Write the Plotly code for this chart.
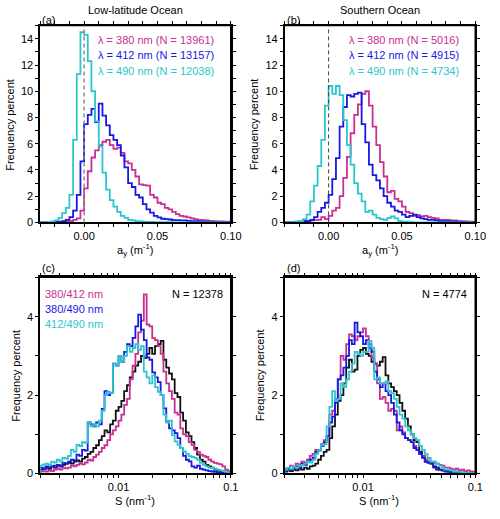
import numpy as np
import plotly.graph_objects as go

# ---------------- data ----------------
# panels (a),(b): absorption a_y histograms, bins of 0.0025 m^-1 from -0.03 to 0.10
AY_EDGES = np.round(np.linspace(-0.03, 0.10, 53), 5)

a_380 = [0, 0, 0, 0, 0.01, 0.02, 0.02, 0.05, 0.1, 0.2, 0.3, 0.9,
         2.6, 3.9, 4.95, 5.5, 5.9, 6.15, 6.3, 5.9, 5.6, 5.7,
         5.3, 4.65, 4.5, 4.0, 3.5, 2.9, 2.85, 2.8, 2.1, 1.9,
         1.5, 1.4, 1.1, 1.0, 0.8, 0.63, 0.5, 0.45, 0.38, 0.3,
         0.25, 0.2, 0.18, 0.15, 0.12, 0.1, 0.08, 0.08, 0.06, 0.05]
a_412 = [0, 0, 0.01, 0.02, 0.03, 0.05, 0.1, 0.2, 0.4, 0.9, 2.1, 4.65,
         7.5, 8.2, 8.65, 7.65, 9.05, 8.15, 7.4, 6.65, 6.3, 5.9,
         5.1, 4.2, 3.0, 2.7, 2.1, 1.9, 1.4, 1.0, 0.75, 0.5,
         0.38, 0.28, 0.25, 0.22, 0.18, 0.18, 0.15, 0.15, 0.12, 0.1,
         0.1, 0.08, 0.06, 0.05, 0.04, 0.03, 0.02, 0.02, 0.01, 0.01]
a_490 = [0, 0, 0.03, 0.08, 0.15, 0.35, 0.7, 1.1, 2.1, 6.3, 11.3, 14.5,
         14.3, 12.3, 10.0, 7.7, 5.8, 3.8, 2.5, 1.7, 1.2, 0.8,
         0.5, 0.35, 0.2, 0.15, 0.1, 0.08, 0.05, 0.04, 0.03, 0.02,
         0.02, 0.01, 0.01, 0.01, 0, 0, 0, 0, 0, 0,
         0, 0, 0, 0, 0, 0, 0, 0, 0, 0]

b_380 = [0, 0, 0.02, 0.03, 0.05, 0.1, 0.1, 0.15, 0.2, 0.2, 0.4, 0.25,
         0.5, 0.9, 1.1, 2.0, 3.4, 5.0, 6.8, 8.2, 9.0, 9.8,
         10.0, 8.9, 7.3, 5.9, 4.6, 3.5, 2.3, 2.4, 1.8, 1.6,
         1.2, 0.8, 0.7, 0.5, 0.55, 0.45, 0.5, 0.4, 0.35, 0.3,
         0.2, 0.2, 0.2, 0.15, 0.15, 0.1, 0.1, 0.08, 0.06, 0.05]
b_412 = [0, 0, 0.02, 0.05, 0.05, 0.1, 0.1, 0.2, 0.4, 0.8, 1.1, 1.5,
         2.1, 3.3, 4.9, 7.3, 8.8, 9.7, 9.6, 9.8, 9.9, 7.5,
         6.1, 4.4, 3.6, 3.2, 2.6, 2.0, 1.5, 1.2, 0.9, 0.8,
         0.6, 0.4, 0.5, 0.6, 0.4, 0.3, 0.25, 0.2, 0.2, 0.15,
         0.1, 0.1, 0.08, 0.06, 0.05, 0.05, 0.04, 0.03, 0.02, 0.02]
b_490 = [0, 0, 0.02, 0.05, 0.1, 0.25, 0.6, 1.6, 2.8, 4.3, 6.3, 8.9,
         10.4, 9.8, 10.4, 9.7, 7.8, 5.9, 4.4, 3.0, 2.2, 1.6,
         0.8, 0.9, 0.6, 0.35, 0.25, 0.2, 0.35, 0.45, 0.3, 0.1,
         0.05, 0.05, 0.02, 0, 0, 0, 0, 0, 0, 0,
         0, 0, 0, 0, 0, 0, 0, 0, 0, 0]

# panels (c),(d): spectral slope S histograms, log bins of 0.025 decade from 0.002 to 0.1
S_EDGES = 10 ** np.linspace(-2.7, -1.0, 69)

c_black = [0.10, 0.12, 0.15, 0.12, 0.18, 0.15, 0.20, 0.18, 0.22, 0.25,
           0.27, 0.25, 0.30, 0.33, 0.30, 0.38, 0.42, 0.50, 0.55, 0.65,
           0.72, 0.85, 0.95, 1.10, 1.05, 1.25, 1.35, 1.60, 1.70, 1.85,
           2.10, 2.25, 2.45, 2.60, 2.75, 2.85, 3.00, 2.95, 3.05, 3.20,
           3.05, 3.25, 3.30, 3.38, 2.90, 2.70, 2.55, 2.40, 2.05, 1.95,
           1.55, 1.35, 1.05, 0.95, 0.80, 0.65, 0.48, 0.35, 0.30, 0.22,
           0.18, 0.15, 0.10, 0.08, 0.06, 0.05, 0.04, 0.03]
c_380_412 = [0.05, 0.06, 0.05, 0.08, 0.06, 0.10, 0.12, 0.10, 0.15, 0.13,
             0.15, 0.20, 0.18, 0.22, 0.25, 0.23, 0.28, 0.35, 0.33, 0.42,
             0.48, 0.55, 0.65, 0.72, 0.85, 1.00, 1.10, 1.20, 1.35, 1.50,
             1.75, 1.90, 2.40, 2.75, 3.05, 3.60, 3.90, 4.57, 3.80, 3.75,
             3.45, 3.40, 3.25, 3.05, 2.60, 2.30, 2.10, 1.90, 1.55, 1.50,
             1.15, 1.00, 0.95, 0.80, 0.73, 0.60, 0.55, 0.48, 0.45, 0.42,
             0.35, 0.30, 0.27, 0.25, 0.23, 0.18, 0.10, 0.06]
c_380_490 = [0.15, 0.12, 0.18, 0.15, 0.18, 0.20, 0.22, 0.18, 0.27, 0.25,
             0.30, 0.35, 0.33, 0.48, 0.45, 0.60, 0.58, 1.30, 1.25, 1.20,
             1.30, 1.25, 1.65, 2.10, 2.00, 2.05, 2.80, 2.75, 3.00, 2.85,
             3.10, 3.30, 3.25, 3.46, 3.75, 4.05, 3.67, 3.40, 2.96, 2.90,
             2.58, 2.45, 2.33, 2.00, 1.66, 1.32, 1.15, 1.10, 1.03, 0.90,
             0.65, 0.45, 0.35, 0.31, 0.18, 0.15, 0.20, 0.12, 0.10, 0.08,
             0.06, 0.05, 0.04, 0.03, 0.02, 0.02, 0.01, 0.01]
c_412_490 = [0.20, 0.23, 0.25, 0.22, 0.30, 0.28, 0.35, 0.30, 0.40, 0.38,
             0.45, 0.60, 0.55, 0.73, 0.70, 0.80, 0.78, 1.30, 1.20, 1.25,
             1.20, 1.35, 1.60, 2.00, 2.08, 2.05, 2.80, 2.75, 3.00, 2.85,
             3.00, 3.25, 3.10, 3.20, 3.30, 3.15, 3.25, 2.60, 2.45, 2.30,
             2.50, 2.20, 2.08, 2.00, 1.50, 1.30, 1.35, 0.98, 0.82, 0.73,
             0.65, 0.56, 0.50, 0.44, 0.42, 0.40, 0.35, 0.27, 0.22, 0.18,
             0.15, 0.14, 0.12, 0.10, 0.08, 0.06, 0.04, 0.03]

d_black = [0.05, 0.08, 0.06, 0.10, 0.08, 0.12, 0.10, 0.15, 0.12, 0.18,
           0.20, 0.25, 0.35, 0.45, 0.55, 0.60, 0.90, 1.20, 1.50, 1.85,
           2.00, 2.30, 2.70, 2.90, 2.60, 2.65, 3.00, 3.15, 3.20, 3.05,
           3.00, 2.85, 2.80, 2.75, 2.85, 2.97, 2.50, 2.30, 2.20, 2.10,
           2.00, 1.80, 1.60, 1.40, 1.20, 1.00, 0.85, 0.80, 0.55, 0.45,
           0.30, 0.28, 0.25, 0.18, 0.15, 0.10, 0.08, 0.06, 0.05, 0.04,
           0.03, 0.02, 0.02, 0.01, 0.01, 0.0, 0.0, 0.0]
d_380_412 = [0.12, 0.10, 0.20, 0.15, 0.25, 0.22, 0.30, 0.28, 0.35, 0.45,
             0.50, 0.60, 0.58, 0.75, 0.85, 0.95, 1.50, 1.60, 1.90, 2.40,
             3.00, 2.90, 3.30, 3.55, 3.50, 3.40, 3.50, 3.60, 3.70, 3.50,
             3.30, 2.95, 2.80, 2.30, 1.90, 1.95, 1.80, 1.60, 1.65, 1.60,
             1.10, 1.20, 1.05, 0.90, 0.85, 0.80, 0.70, 0.60, 0.50, 0.45,
             0.35, 0.40, 0.30, 0.28, 0.25, 0.22, 0.20, 0.15, 0.15, 0.12,
             0.10, 0.12, 0.08, 0.10, 0.06, 0.08, 0.05, 0.04]
d_380_490 = [0.08, 0.12, 0.10, 0.15, 0.18, 0.15, 0.25, 0.22, 0.30, 0.35,
             0.40, 0.55, 0.60, 0.70, 0.80, 0.95, 1.30, 1.45, 1.80, 2.40,
             2.50, 2.70, 3.00, 3.40, 3.30, 3.85, 3.60, 3.50, 3.30, 3.40,
             3.20, 3.10, 2.60, 2.40, 2.20, 2.30, 2.10, 2.00, 1.80, 1.50,
             1.30, 1.10, 1.00, 0.90, 0.85, 0.80, 0.65, 0.60, 0.50, 0.40,
             0.30, 0.28, 0.25, 0.15, 0.10, 0.10, 0.08, 0.05, 0.05, 0.03,
             0.02, 0.02, 0.01, 0.01, 0.0, 0.0, 0.0, 0.0]
d_412_490 = [0.10, 0.15, 0.12, 0.18, 0.15, 0.20, 0.22, 0.25, 0.30, 0.28,
             0.35, 0.50, 0.60, 0.72, 0.75, 1.20, 1.70, 2.10, 1.85, 1.90,
             2.30, 2.20, 2.40, 2.60, 2.80, 3.10, 3.05, 3.00, 3.10, 3.10,
             3.38, 3.20, 2.40, 2.45, 2.30, 2.30, 2.35, 2.10, 2.05, 1.90,
             1.70, 1.50, 1.40, 1.20, 1.10, 1.00, 0.90, 0.85, 0.70, 0.60,
             0.50, 0.40, 0.30, 0.30, 0.25, 0.20, 0.15, 0.10, 0.10, 0.08,
             0.05, 0.05, 0.04, 0.03, 0.02, 0.02, 0.01, 0.01]

AY_LABELS_A = ["λ = 380 nm (N = 13961)", "λ = 412 nm (N = 13157)", "λ = 490 nm (N = 12038)"]
AY_LABELS_B = ["λ = 380 nm (N = 5016)", "λ = 412 nm (N = 4915)", "λ = 490 nm (N = 4734)"]
S_LABELS = ["380/412 nm", "380/490 nm", "412/490 nm"]
N_C, N_D = "N = 12378", "N = 4774"
S_DASH = [0.014, 0.018]

# tick positions / labels
AY_TICKS = [-0.03, -0.02, -0.01, 0.0, 0.01, 0.02, 0.03, 0.04, 0.05, 0.06, 0.07, 0.08, 0.09, 0.10]
AY_TICKTEXT = ["", "", "", "0.00", "", "", "", "", "0.05", "", "", "", "", "0.10"]
S_TICKS = [0.002, 0.003, 0.004, 0.005, 0.006, 0.007, 0.008, 0.009, 0.01,
           0.02, 0.03, 0.04, 0.05, 0.06, 0.07, 0.08, 0.09, 0.1]
S_TICKTEXT = ["", "", "", "", "", "", "", "", "0.01", "", "", "", "", "", "", "", "", "0.1"]
YT_TICKS = list(range(0, 16))
YT_TICKTEXT = [str(v) if v % 2 == 0 else "" for v in YT_TICKS]
YB_TICKS = [0, 1, 2, 3, 4, 5]
YB_TICKTEXT = ["0", "", "2", "", "4", ""]

# ---------------- styling ----------------
MAG, BLU, CYA, BLK = "#C92E93", "#1717E8", "#2BC6CB", "#111111"
FONT = "Liberation Sans, Arial, Helvetica, sans-serif"
W, H = 500, 519


def px(x):
    return x / W


def py(y):
    return 1 - y / H


XA, XB = [px(41), px(236)], [px(291), px(486)]
YTOP, YBOT = [py(225), py(26)], [py(479), py(280.7)]


def step(edges, vals):
    x = [edges[0]] + list(edges[:-1]) + [edges[-1]]
    y = [0] + list(vals) + [0]
    return x, y


fig = go.Figure()


def add_hist(edges, vals, color, xa, ya):
    x, y = step(edges, vals)
    fig.add_trace(go.Scatter(x=x, y=y, mode="lines", line=dict(color=color, width=1.8, shape="hv"),
                             xaxis=xa, yaxis=ya, showlegend=False, hoverinfo="skip"))


for vals, col in [(a_380, MAG), (a_412, BLU), (a_490, CYA)]:
    add_hist(AY_EDGES, vals, col, "x", "y")
for vals, col in [(b_380, MAG), (b_412, BLU), (b_490, CYA)]:
    add_hist(AY_EDGES, vals, col, "x2", "y2")
for vals, col in [(c_black, BLK), (c_380_412, MAG), (c_380_490, BLU), (c_412_490, CYA)]:
    add_hist(S_EDGES, vals, col, "x3", "y3")
for vals, col in [(d_black, BLK), (d_380_412, MAG), (d_380_490, BLU), (d_412_490, CYA)]:
    add_hist(S_EDGES, vals, col, "x4", "y4")

tickfont = dict(family=FONT, size=11, color="black")
common = dict(showgrid=False, zeroline=False, showline=True, linecolor="black", ticks="outside",
              tickcolor="black", tickwidth=1, ticklen=3, tickfont=tickfont, mirror="ticks",
              linewidth=1.5, tickmode="array")

lin_x = dict(common, range=[-0.03, 0.10], tickvals=AY_TICKS, ticktext=AY_TICKTEXT)
log_x = dict(common, type="log", range=[np.log10(0.002), -1], tickvals=S_TICKS, ticktext=S_TICKTEXT)
top_y = dict(common, range=[0, 15], tickvals=YT_TICKS, ticktext=YT_TICKTEXT)
bot_y = dict(common, range=[0, 5], tickvals=YB_TICKS, ticktext=YB_TICKTEXT)

fig.update_layout(
    width=W, height=H, margin=dict(l=0, r=0, t=0, b=0),
    paper_bgcolor="white", plot_bgcolor="white",
    font=dict(family=FONT, size=11, color="black"),
    xaxis=dict(lin_x, domain=XA, anchor="y"),
    yaxis=dict(top_y, domain=YTOP, anchor="x"),
    xaxis2=dict(lin_x, domain=XB, anchor="y2"),
    yaxis2=dict(top_y, domain=YTOP, anchor="x2"),
    xaxis3=dict(log_x, domain=XA, anchor="y3"),
    yaxis3=dict(bot_y, domain=YBOT, anchor="x3"),
    xaxis4=dict(log_x, domain=XB, anchor="y4"),
    yaxis4=dict(bot_y, domain=YBOT, anchor="x4"),
)

# frame lines on top/right in paper coordinates (not clipped), dashed reference lines
shapes = []
for xd, yd in [(XA, YTOP), (XB, YTOP), (XA, YBOT), (XB, YBOT)]:
    shapes.append(dict(type="line", xref="paper", yref="paper", x0=xd[0], x1=xd[1], y0=yd[1], y1=yd[1],
                       line=dict(color="black", width=1.2), layer="above"))
    shapes.append(dict(type="line", xref="paper", yref="paper", x0=xd[1], x1=xd[1], y0=yd[0], y1=yd[1],
                       line=dict(color="black", width=1.6), layer="above"))
for xr, yr, col, wid in [("x", "y domain", "#8c8c8c", 1.5), ("x2", "y2 domain", "#444444", 1)]:
    shapes.append(dict(type="line", xref=xr, yref=yr, x0=0, x1=0, y0=0, y1=1,
                       line=dict(color=col, width=wid, dash="4px,3px")))
for xr, yr in [("x3", "y3 domain"), ("x4", "y4 domain")]:
    for s in S_DASH:
        shapes.append(dict(type="line", xref=xr, yref=yr, x0=np.log10(s), x1=np.log10(s), y0=0, y1=1,
                           line=dict(color="#444444", width=1, dash="4px,3px")))
fig.update_layout(shapes=shapes)

ann = []


def text(x, y, s, xanchor="center", color="black", size=11, angle=0):
    ann.append(dict(x=px(x), y=py(y), xref="paper", yref="paper", text=s, showarrow=False,
                    xanchor=xanchor, yanchor="middle", textangle=angle,
                    font=dict(family=FONT, size=size, color=color)))


text(138.5, 10, "Low-latitude Ocean")
text(388.5, 10, "Southern Ocean")
for lab, x, y in [("(a)", 41, 20), ("(b)", 291, 20), ("(c)", 41, 271), ("(d)", 291, 271)]:
    text(x, y, lab, xanchor="left")
for x, y in [(9.5, 126), (259.5, 126), (15.5, 380), (265.5, 380)]:
    text(x, y, "Frequency percent", angle=-90)
text(138.5, 253, "a<sub>y</sub> (m<sup>-1</sup>)")
text(388.5, 253, "a<sub>y</sub> (m<sup>-1</sup>)")
text(138, 506, "S (nm<sup>-1</sup>)")
text(388, 506, "S (nm<sup>-1</sup>)")
for lab, col, y in zip(AY_LABELS_A, [MAG, BLU, CYA], [40, 55.5, 71.5]):
    text(221, y, lab, xanchor="right", color=col)
for lab, col, y in zip(AY_LABELS_B, [MAG, BLU, CYA], [40, 55.5, 71.5]):
    text(471, y, lab, xanchor="right", color=col)
for lab, col, y in zip(S_LABELS, [MAG, BLU, CYA], [297.5, 313, 328]):
    text(43.5, y, lab, xanchor="left", color=col)
text(230, 297.5, N_C, xanchor="right")
text(480, 297.5, N_D, xanchor="right")
fig.update_layout(annotations=ann)

fig.write_html("out.html", config={"displayModeBar": False},
               post_script="document.body.style.margin='0';document.body.style.overflow='hidden';")
